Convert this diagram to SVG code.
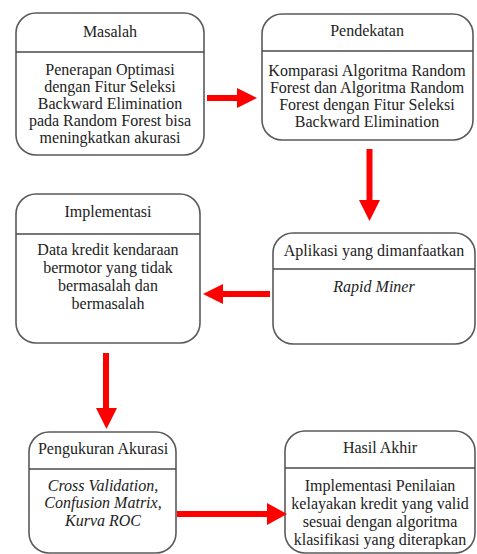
<svg xmlns="http://www.w3.org/2000/svg" width="477" height="554" viewBox="0 0 477 554">
<defs>
<style>
.box{fill:#fff;stroke:#5a5a5a;stroke-width:1.6}
.div{stroke:#4a4a4a;stroke-width:1.4}
text{font-family:'Liberation Serif','Tinos','Times New Roman',Times,serif;font-size:16px;fill:#222;text-anchor:middle}
.it{font-style:italic}
.shaft{stroke:#ff0000;stroke-width:6;fill:none}
.head{fill:#ff0000}
</style>
</defs>
<rect width="477" height="554" fill="#fff"/>
<g id="masalah" font-family="Liberation Serif, serif">
<rect class="box" x="16" y="13" width="188" height="142" rx="20"/>
<line class="div" x1="16" y1="52" x2="204" y2="52"/>
<text x="110" y="37">Masalah</text>
<text x="110" y="75">Penerapan Optimasi</text>
<text x="110" y="92">dengan Fitur Seleksi</text>
<text x="110" y="109">Backward Elimination</text>
<text x="110" y="126">pada Random Forest bisa</text>
<text x="110" y="143">meningkatkan akurasi</text>
</g>
<g id="pendekatan">
<rect class="box" x="262" y="14" width="211" height="126" rx="20"/>
<line class="div" x1="262" y1="51" x2="473" y2="51"/>
<text x="367" y="36">Pendekatan</text>
<text x="367" y="76">Komparasi Algoritma Random</text>
<text x="367" y="93">Forest dan Algoritma Random</text>
<text x="367" y="110">Forest dengan Fitur Seleksi</text>
<text x="367" y="127">Backward Elimination</text>
</g>
<g id="implementasi">
<rect class="box" x="16" y="194" width="184" height="149" rx="20"/>
<line class="div" x1="16" y1="234" x2="200" y2="234"/>
<text x="108" y="217">Implementasi</text>
<text x="108" y="255">Data kredit kendaraan</text>
<text x="108" y="273">bermotor yang tidak</text>
<text x="108" y="291">bermasalah dan</text>
<text x="108" y="309">bermasalah</text>
</g>
<g id="aplikasi">
<rect class="box" x="273" y="233" width="202" height="111" rx="20"/>
<line class="div" x1="273" y1="269" x2="475" y2="269"/>
<text x="374" y="256">Aplikasi yang dimanfaatkan</text>
<text class="it" x="374" y="292">Rapid Miner</text>
</g>
<g id="pengukuran">
<rect class="box" x="29" y="432" width="147" height="121" rx="20"/>
<line class="div" x1="29" y1="469" x2="176" y2="469"/>
<text x="103" y="454">Pengukuran Akurasi</text>
<text class="it" x="103" y="491">Cross Validation,</text>
<text class="it" x="103" y="508">Confusion Matrix,</text>
<text class="it" x="103" y="526">Kurva ROC</text>
</g>
<g id="hasil">
<rect class="box" x="285" y="431" width="190" height="122" rx="20"/>
<line class="div" x1="285" y1="468" x2="475" y2="468"/>
<text x="380" y="453">Hasil Akhir</text>
<text x="380" y="491">Implementasi Penilaian</text>
<text x="380" y="509">kelayakan kredit yang valid</text>
<text x="380" y="527">sesuai dengan algoritma</text>
<text x="380" y="545">klasifikasi yang diterapkan</text>
</g>
<g id="connectors">
<line class="shaft" x1="207" y1="98" x2="239" y2="98"/>
<polygon class="head" points="237,88 257,98 237,108"/>
<line class="shaft" x1="369.5" y1="149" x2="369.5" y2="202"/>
<polygon class="head" points="359,200 380,200 369.5,221"/>
<line class="shaft" x1="270" y1="294" x2="221" y2="294"/>
<polygon class="head" points="223,284 203,294 223,304"/>
<line class="shaft" x1="106" y1="353" x2="106" y2="410"/>
<polygon class="head" points="96,408 117,408 106.5,429"/>
<line class="shaft" x1="177" y1="514" x2="269" y2="514"/>
<polygon class="head" points="267,503 287,514 267,525"/>
</g>
</svg>
